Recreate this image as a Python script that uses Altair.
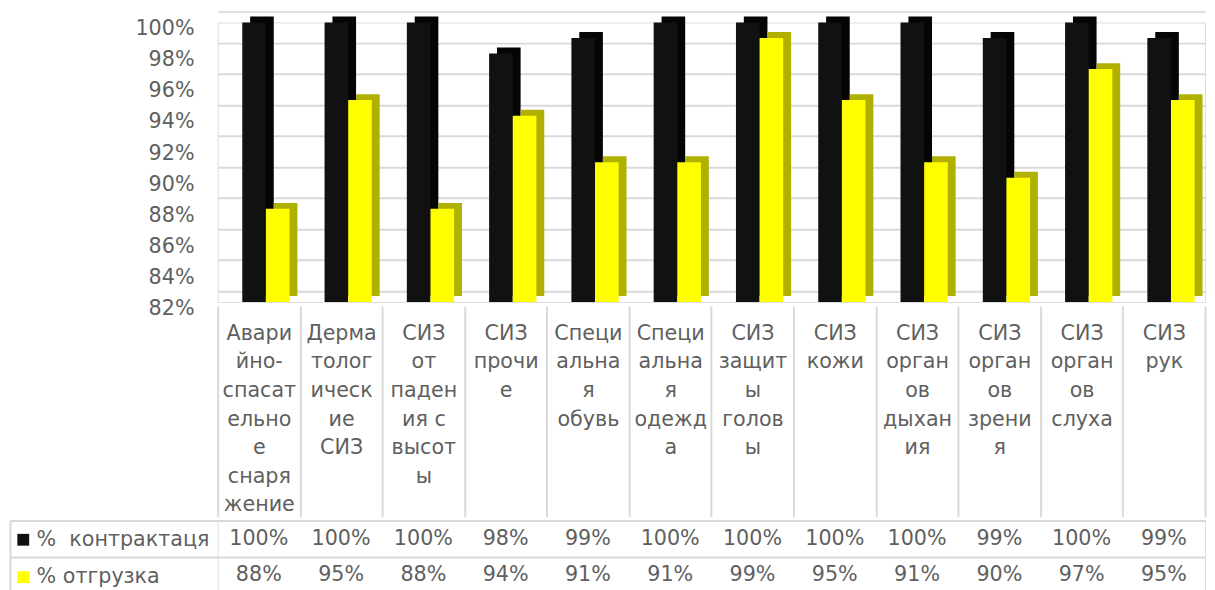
import altair as alt
import pandas as pd

# ---------------- data ----------------
category_lines = [
    ["Авари", "йно-", "спасат", "ельно", "е", "снаря", "жение"],
    ["Дерма", "толог", "ическ", "ие", "СИЗ"],
    ["СИЗ", "от", "паден", "ия с", "высот", "ы"],
    ["СИЗ", "прочи", "е"],
    ["Специ", "альна", "я", "обувь"],
    ["Специ", "альна", "я", "одежд", "а"],
    ["СИЗ", "защит", "ы", "голов", "ы"],
    ["СИЗ", "кожи"],
    ["СИЗ", "орган", "ов", "дыхан", "ия"],
    ["СИЗ", "орган", "ов", "зрени", "я"],
    ["СИЗ", "орган", "ов", "слуха"],
    ["СИЗ", "рук"],
]
categories = ["\n".join(lines) for lines in category_lines]
series_names = ["%\u00a0 контрактаця", "% отгрузка"]
contract = [1.00, 1.00, 1.00, 0.98, 0.99, 1.00, 1.00, 1.00, 1.00, 0.99, 1.00, 0.99]
shipment = [0.88, 0.95, 0.88, 0.94, 0.91, 0.91, 0.99, 0.95, 0.91, 0.90, 0.97, 0.95]
y_ticks = [0.82, 0.84, 0.86, 0.88, 0.90, 0.92, 0.94, 0.96, 0.98, 1.00]
series_colors = ["#111111", "#FFFF00"]
extrude_colors = ["#050505", "#B0B000"]

df = pd.DataFrame({
    "category": categories * 2,
    "series": [series_names[0]] * len(categories) + [series_names[1]] * len(categories),
    "value": contract + shipment,
})

FONT = "DejaVu Sans"
TXT = "#5F5F5F"
GRID = "#D9D9D9"
W = 1003

# ---------------- top: 3D-like bars ----------------
x_top = alt.X(
    "category:N", sort=categories,
    scale=alt.Scale(paddingInner=0, paddingOuter=0),
    axis=alt.Axis(
        title=None, orient="bottom", offset=4, domain=False, grid=False,
        ticks=True, tickBand="extent", tickSize=214, tickColor=GRID, tickWidth=2,
        labelAngle=0, labelExpr="split(datum.label, '\\n')",
        labelFont=FONT, labelFontSize=21, labelColor=TXT, labelLineHeight=29,
        labelPadding=-197, labelBaseline="top", labelAlign="center", labelOverlap=False,
    ),
)
y_scale = alt.Scale(domain=[0.82, 1.0], zero=False, nice=False)
y_top = alt.Y(
    "value:Q", scale=y_scale,
    axis=alt.Axis(
        title=None, values=y_ticks, format=".0%", domain=False, ticks=False,
        grid=True, gridColor=GRID, gridWidth=2, tickOffset=-11, labelOffset=17.5,
        labelPadding=24, labelFont=FONT, labelFontSize=21, labelColor=TXT,
        minExtent=211, maxExtent=211,
    ),
)
color_enc = alt.Color(
    "series:N",
    scale=alt.Scale(domain=series_names, range=series_colors),
    legend=alt.Legend(
        orient="none", legendX=-208, legendY=515, title=None, direction="vertical",
        symbolType="square", symbolSize=144, symbolStrokeWidth=0,
        labelFont=FONT, labelFontSize=21, labelColor=TXT, labelOffset=3,
        labelLimit=300, rowPadding=16, padding=0,
    ),
)

base = alt.Chart(df).encode(x=x_top, y=y_top, y2=alt.datum(0.82))
offsets = [-4.8, 19.2]
layers = []
for i, s in enumerate(series_names):
    sub = base.transform_filter(alt.datum.series == s)
    layers.append(sub.mark_bar(width=24, xOffset=offsets[i] + 8, yOffset=-6, y2Offset=-6,
                               color=extrude_colors[i]))
    layers.append(sub.mark_bar(width=24, xOffset=offsets[i]).encode(color=color_enc))
top = alt.layer(*layers).properties(width=W, height=284)

# ---------------- bottom: data table ----------------
x_bot = alt.X(
    "category:N", sort=categories,
    scale=alt.Scale(paddingInner=0, paddingOuter=0),
    axis=alt.Axis(title=None, labels=False, ticks=False, domain=False, grid=True,
                  tickBand="extent", gridColor=GRID, gridWidth=2),
)
y_bot = alt.Y(
    "series:N", sort=series_names,
    scale=alt.Scale(paddingInner=0, paddingOuter=0),
    axis=alt.Axis(title=None, labels=False, domain=False, ticks=True, tickSize=211,
                  tickBand="extent", tickColor=GRID, tickWidth=2, grid=True,
                  gridColor=GRID, gridWidth=2, minExtent=211, maxExtent=211),
)
cells = alt.Chart(df).mark_text(font=FONT, fontSize=21, color=TXT).encode(
    x=x_bot, y=y_bot, text=alt.Text("value:Q", format=".0%"))
border = alt.Chart(df).mark_tick(opacity=0).encode(
    x=alt.X("category:N", sort=categories, axis=None),
    y=alt.Y("series:N", sort=series_names,
            axis=alt.Axis(orient="left", offset=211, title=None, labels=False, ticks=False,
                          grid=False, domain=True, domainColor=GRID, domainWidth=2)),
)
bottom = alt.layer(cells, border).resolve_axis(y="independent").properties(width=W, height=74)

chart = alt.vconcat(top, bottom, spacing=0).properties(
    padding={"left": 0, "top": 3, "right": 0, "bottom": 0}
).configure_view(stroke=None).configure(font=FONT)

chart.save("out.html", embed_options={"renderer": "svg", "actions": False})
